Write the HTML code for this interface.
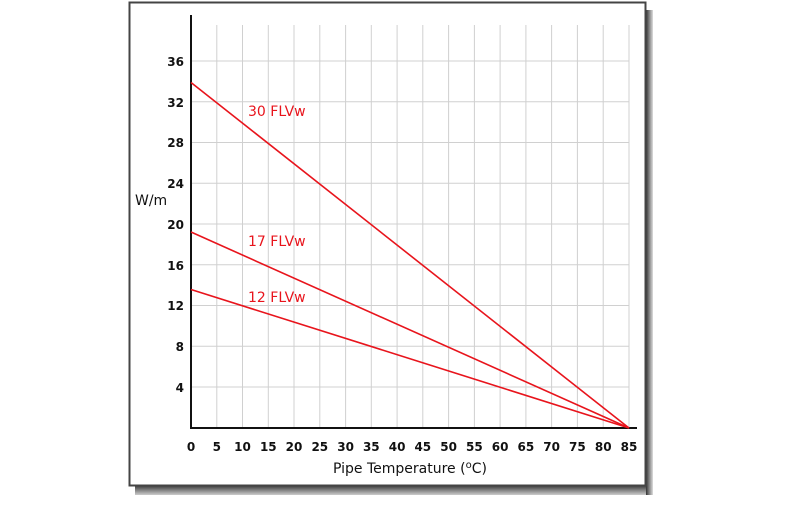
<!DOCTYPE html>
<html><head><style>
body{margin:0;background:#fff;width:800px;height:500px;overflow:hidden}
svg text{font-family:"DejaVu Sans","Liberation Sans",sans-serif}
</style></head><body>
<svg width="800" height="500" xmlns="http://www.w3.org/2000/svg">
<defs>
<linearGradient id="sb" x1="0" y1="0" x2="0" y2="1"><stop offset="0" stop-color="#333"/><stop offset="1" stop-color="#ccc"/></linearGradient>
<linearGradient id="sr" x1="0" y1="0" x2="1" y2="0"><stop offset="0" stop-color="#333"/><stop offset="1" stop-color="#ddd"/></linearGradient>
</defs>
<rect x="135" y="485" width="517" height="10" fill="url(#sb)"/>
<rect x="646" y="10" width="7" height="485" fill="url(#sr)"/>
<rect x="129.5" y="2.5" width="516" height="483" fill="#fff" stroke="#444" stroke-width="2"/>
<g stroke="#d0d0d0" stroke-width="1">
<line x1="216.8" y1="25" x2="216.8" y2="428"/><line x1="242.5" y1="25" x2="242.5" y2="428"/><line x1="268.3" y1="25" x2="268.3" y2="428"/><line x1="294" y1="25" x2="294" y2="428"/><line x1="319.8" y1="25" x2="319.8" y2="428"/><line x1="345.6" y1="25" x2="345.6" y2="428"/><line x1="371.3" y1="25" x2="371.3" y2="428"/><line x1="397.1" y1="25" x2="397.1" y2="428"/><line x1="422.8" y1="25" x2="422.8" y2="428"/><line x1="448.6" y1="25" x2="448.6" y2="428"/><line x1="474.4" y1="25" x2="474.4" y2="428"/><line x1="500.1" y1="25" x2="500.1" y2="428"/><line x1="525.9" y1="25" x2="525.9" y2="428"/><line x1="551.6" y1="25" x2="551.6" y2="428"/><line x1="577.4" y1="25" x2="577.4" y2="428"/><line x1="603.2" y1="25" x2="603.2" y2="428"/><line x1="629" y1="25" x2="629" y2="428"/>
<line x1="191" y1="61" x2="629" y2="61"/><line x1="191" y1="101.8" x2="629" y2="101.8"/><line x1="191" y1="142.5" x2="629" y2="142.5"/><line x1="191" y1="183.3" x2="629" y2="183.3"/><line x1="191" y1="224" x2="629" y2="224"/><line x1="191" y1="264.8" x2="629" y2="264.8"/><line x1="191" y1="305.5" x2="629" y2="305.5"/><line x1="191" y1="346.3" x2="629" y2="346.3"/><line x1="191" y1="387" x2="629" y2="387"/>
</g>
<line x1="191" y1="15" x2="191" y2="429" stroke="#111" stroke-width="2"/>
<line x1="190" y1="428" x2="637" y2="428" stroke="#111" stroke-width="2"/>
<g stroke="#e8141c" stroke-width="1.6">
<line x1="191" y1="82.5" x2="629" y2="428"/>
<line x1="191" y1="232" x2="629" y2="428"/>
<line x1="191" y1="289.5" x2="629" y2="428"/>
</g>
<g fill="#e8141c" font-size="14">
<text x="248" y="116">30 FLVw</text><text x="248" y="246">17 FLVw</text><text x="248" y="302">12 FLVw</text>
</g>
<g font-size="12" font-weight="bold" fill="#111" text-anchor="end">
<text x="184" y="66">36</text><text x="184" y="107">32</text><text x="184" y="147">28</text><text x="184" y="188">24</text><text x="184" y="229">20</text><text x="184" y="270">16</text><text x="184" y="310">12</text><text x="184" y="351">8</text><text x="184" y="392">4</text>
</g>
<g font-size="12" font-weight="bold" fill="#111" text-anchor="middle">
<text x="191" y="451">0</text><text x="216.8" y="451">5</text><text x="242.5" y="451">10</text><text x="268.3" y="451">15</text><text x="294" y="451">20</text><text x="319.8" y="451">25</text><text x="345.6" y="451">30</text><text x="371.3" y="451">35</text><text x="397.1" y="451">40</text><text x="422.8" y="451">45</text><text x="448.6" y="451">50</text><text x="474.4" y="451">55</text><text x="500.1" y="451">60</text><text x="525.9" y="451">65</text><text x="551.6" y="451">70</text><text x="577.4" y="451">75</text><text x="603.2" y="451">80</text><text x="629" y="451">85</text>
</g>
<text x="135" y="205" font-size="14" fill="#111">W/m</text>
<text x="410" y="473" font-size="14" fill="#111" text-anchor="middle">Pipe Temperature (<tspan font-size="10" dy="-5">o</tspan><tspan dy="5">C)</tspan></text>
</svg>
</body></html>
